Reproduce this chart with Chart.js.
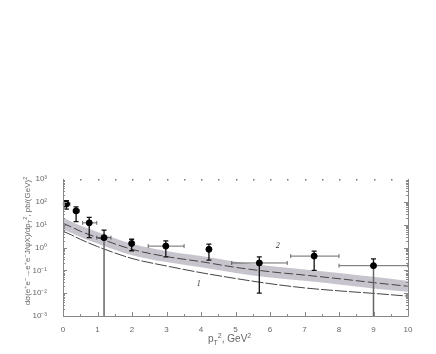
<!DOCTYPE html>
<html>
<head>
<meta charset="utf-8">
<script src="https://cdn.jsdelivr.net/npm/chart.js@4.4.0/dist/chart.umd.min.js"></script>
<style>
  html, body { margin: 0; padding: 0; background: #fff; }
  #wrap { width: 436px; height: 354px; }
</style>
</head>
<body>
<div id="wrap"><canvas id="ptChart" width="436" height="354"></canvas></div>
<script>
// measured points (pT^2 in GeV^2, cross section in pb/GeV^2)
var ptX   = [0.1, 0.38, 0.76, 1.19, 1.99, 2.98, 4.23, 5.69, 7.28, 9.0];
var ptY   = [80, 40, 12, 2.7, 1.5, 1.15, 0.83, 0.21, 0.42, 0.16];
var errHi = [112, 60, 21, 5.8, 2.3, 1.95, 1.4, 0.39, 0.69, 0.32];
var errLo = [48, 13.5, 2.7, 0.001, 0.72, 0.39, 0.28, 0.01, 0.10, 0.001];
var binLo = [0.01, 0.3, 0.57, 0.98, 1.99, 2.47, 4.23, 4.89, 6.6, 8.0];
var binHi = [0.2, 0.47, 0.98, 1.39, 1.99, 3.51, 4.23, 6.5, 8.0, 10.0];

// theory curves
var curveX  = [0, 0.25, 0.5, 1, 2, 3, 4, 5, 6, 7, 8, 9, 10];
var curve2  = [11.5, 7.8, 5.2, 2.7, 0.83, 0.40, 0.24, 0.135, 0.087, 0.062, 0.043, 0.029, 0.020];
var bandHi  = [20, 13.5, 9.3, 4.8, 1.45, 0.70, 0.42, 0.24, 0.155, 0.11, 0.077, 0.052, 0.034];
var bandLo  = [6.0, 4.3, 2.9, 1.5, 0.46, 0.23, 0.135, 0.077, 0.049, 0.035, 0.024, 0.016, 0.0115];
var curve1  = [5.2, 3.5, 2.3, 1.1, 0.33, 0.155, 0.079, 0.044, 0.026, 0.017, 0.0126, 0.0098, 0.0074];

var yTickLabels = {'1000': '10³', '100': '10²', '10': '10¹', '1': '10⁰', '0.1': '10⁻¹', '0.01': '10⁻²', '0.001': '10⁻³'};

function xy(xs, ys) {
  return xs.map(function (x, i) { return {x: x, y: ys[i]}; });
}

// draws a list of [text, 'sup'|'sub'|null] pieces starting at x, y
function richText(ctx, parts, x, y, size) {
  parts.forEach(function (p) {
    var s = p[1] ? size * 0.7 : size;
    ctx.font = s + 'px "Liberation Sans", Arial, sans-serif';
    var dy = p[1] === 'sup' ? -size * 0.4 : (p[1] === 'sub' ? size * 0.3 : 0);
    ctx.fillText(p[0], x, y + dy);
    x += ctx.measureText(p[0]).width;
  });
  return x;
}

function richWidth(ctx, parts, size) {
  var w = 0;
  parts.forEach(function (p) {
    var s = p[1] ? size * 0.7 : size;
    ctx.font = s + 'px "Liberation Sans", Arial, sans-serif';
    w += ctx.measureText(p[0]).width;
  });
  return w;
}

var decor = {
  id: 'decor',
  beforeDatasetDraw: function (chart, args) {
    if (args.index !== 0) return;
    var ctx = chart.ctx, xs = chart.scales.x, ys = chart.scales.y;
    var bottom = chart.chartArea.bottom;
    ctx.save();
    for (var i = 0; i < ptX.length; i++) {
      var px = xs.getPixelForValue(ptX[i]);
      var py = ys.getPixelForValue(ptY[i]);
      var pHi = ys.getPixelForValue(errHi[i]);
      var pLo = Math.min(ys.getPixelForValue(errLo[i]), bottom);
      // vertical error
      ctx.strokeStyle = '#111';
      ctx.lineWidth = 1.3;
      ctx.beginPath();
      ctx.moveTo(px, pHi); ctx.lineTo(px, py);
      ctx.moveTo(px - 2.5, pHi); ctx.lineTo(px + 2.5, pHi);
      ctx.stroke();
      var toAxis = pLo >= bottom - 1;
      ctx.strokeStyle = toAxis ? '#666' : '#111';
      ctx.lineWidth = toAxis ? 1.5 : 1.3;
      ctx.beginPath();
      ctx.moveTo(px, py); ctx.lineTo(px, pLo);
      if (!toAxis) { ctx.moveTo(px - 2.5, pLo); ctx.lineTo(px + 2.5, pLo); }
      ctx.stroke();
      // horizontal bin
      if (binHi[i] > binLo[i]) {
        var x0 = xs.getPixelForValue(binLo[i]), x1 = xs.getPixelForValue(binHi[i]);
        ctx.strokeStyle = '#444';
        ctx.lineWidth = 0.8;
        ctx.beginPath();
        ctx.moveTo(x0, py); ctx.lineTo(x1, py);
        ctx.moveTo(x0, py - 2); ctx.lineTo(x0, py + 2);
        ctx.moveTo(x1, py - 2); ctx.lineTo(x1, py + 2);
        ctx.stroke();
      }
    }
    ctx.restore();
  },
  afterDraw: function (chart) {
    var ctx = chart.ctx, xs = chart.scales.x, ys = chart.scales.y;
    var a = chart.chartArea;
    ctx.save();
    ctx.strokeStyle = '#888';
    ctx.lineWidth = 1;
    // frame: left, bottom, right solid; top only dotted
    ctx.beginPath();
    ctx.moveTo(a.left + 0.5, a.top); ctx.lineTo(a.left + 0.5, a.bottom + 0.5);
    ctx.lineTo(a.right + 0.5, a.bottom + 0.5); ctx.lineTo(a.right + 0.5, a.top);
    ctx.stroke();
    ctx.fillStyle = '#777';
    for (var t = 0.5; t < 10; t += 0.5) {
      ctx.fillRect(Math.round(xs.getPixelForValue(t)), a.top, 1.5, 1.5);
    }
    // log ticks on left and right
    ctx.beginPath();
    for (var e = -3; e < 3; e++) {
      for (var m = 1; m <= 9; m++) {
        var v = m * Math.pow(10, e);
        var y = Math.round(ys.getPixelForValue(v)) + 0.5;
        var len = m === 1 ? 4 : 2;
        ctx.moveTo(a.left, y); ctx.lineTo(a.left + len, y);
        ctx.moveTo(a.right, y); ctx.lineTo(a.right - len, y);
      }
    }
    // x ticks
    for (var t2 = 0; t2 <= 10; t2 += 0.5) {
      var x = Math.round(xs.getPixelForValue(t2)) + 0.5;
      var l2 = (t2 % 1 === 0) ? 4 : 2;
      ctx.moveTo(x, a.bottom); ctx.lineTo(x, a.bottom - l2);
    }
    ctx.stroke();

    // curve labels
    ctx.fillStyle = '#333';
    ctx.font = 'italic 8px "Liberation Serif", serif';
    ctx.textBaseline = 'middle';
    ctx.fillText('2', xs.getPixelForValue(6.17), ys.getPixelForValue(1.15));
    ctx.fillText('1', xs.getPixelForValue(3.88), ys.getPixelForValue(0.025));

    // x title
    ctx.fillStyle = '#666';
    ctx.textBaseline = 'alphabetic';
    var xt = [['p', null], ['T', 'sub'], ['2', 'sup'], [', GeV', null], ['2', 'sup']];
    richText(ctx, xt, 208, 342, 10);

    // y title
    var yt = [['dσ(e', null], ['+', 'sup'], ['e', null], ['−', 'sup'], ['→e', null], ['+', 'sup'],
              ['e', null], ['−', 'sup'], ['J/ψX)/dp', null], ['T', 'sub'], ['2', 'sup'],
              [', pb/(GeV)', null], ['2', 'sup']];
    ctx.translate(30, 241);
    ctx.rotate(-Math.PI / 2);
    var w = richWidth(ctx, yt, 8);
    richText(ctx, yt, -w / 2, 0, 8);
    ctx.restore();
  }
};

var ctx1 = document.getElementById('ptChart');
var ptChart = new Chart(ctx1, {
  type: 'scatter',
  data: {
    datasets: [{
      label: 'data',
      data: xy(ptX, ptY),
      backgroundColor: '#000',
      borderColor: '#000',
      pointRadius: 3,
      pointHoverRadius: 3
    }, {
      label: 'curve 2',
      type: 'line',
      data: xy(curveX, curve2),
      borderColor: '#444',
      borderWidth: 1,
      borderDash: [9, 3],
      pointRadius: 0,
      cubicInterpolationMode: 'monotone',
      fill: false
    }, {
      label: 'curve 1',
      type: 'line',
      data: xy(curveX, curve1),
      borderColor: '#444',
      borderWidth: 1,
      borderDash: [12, 2],
      pointRadius: 0,
      cubicInterpolationMode: 'monotone',
      fill: false
    }, {
      label: 'band hi',
      type: 'line',
      data: xy(curveX, bandHi),
      borderWidth: 0,
      borderColor: 'rgba(0,0,0,0)',
      backgroundColor: 'rgb(200,196,206)',
      pointRadius: 0,
      cubicInterpolationMode: 'monotone',
      fill: '+1'
    }, {
      label: 'band lo',
      type: 'line',
      data: xy(curveX, bandLo),
      borderWidth: 0,
      borderColor: 'rgba(0,0,0,0)',
      pointRadius: 0,
      cubicInterpolationMode: 'monotone',
      fill: false
    }]
  },
  options: {
    responsive: false,
    animation: false,
    layout: { padding: { top: 179, right: 28, left: 0, bottom: 0 } },
    plugins: { legend: { display: false }, tooltip: { enabled: false } },
    scales: {
      x: {
        type: 'linear',
        min: 0,
        max: 10,
        grid: { display: false },
        border: { display: false },
        ticks: { stepSize: 1, color: '#666', padding: 1, font: { size: 8, family: 'Liberation Sans' } },
        afterFit: function (s) { s.height = 38; }
      },
      y: {
        type: 'logarithmic',
        min: 0.001,
        max: 1000,
        grid: { display: false },
        border: { display: false },
        ticks: {
          autoSkip: false,
          color: '#666',
          padding: 8,
          font: { size: 8, family: 'Liberation Sans' },
          callback: function (v) { return yTickLabels[String(v)] || ''; }
        },
        afterFit: function (s) { s.width = 63; }
      }
    }
  },
  plugins: [decor]
});
</script>
</body>
</html>
